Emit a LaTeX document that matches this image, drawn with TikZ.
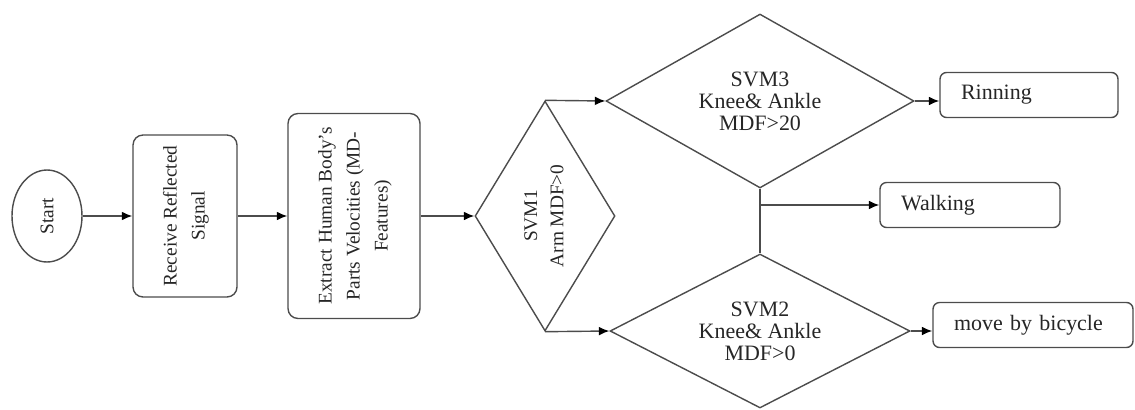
\documentclass[tikz,border=0pt]{standalone}
\usepackage{fontspec}
\setmainfont{Liberation Serif}
\usetikzlibrary{shapes.geometric,arrows.meta}

\begin{document}
\begin{tikzpicture}[x=0.02cm,y=-0.02cm,
        box/.style={draw=black!70,line width=0.8pt,rounded corners=0.2cm,text=black!85,font=\fontsize{11}{16}\selectfont},
        dec/.style={diamond,draw=black!70,line width=0.8pt,inner sep=1pt,text=black!85},
        res/.style={draw=black!70,line width=0.8pt,rounded corners=0.13cm,minimum height=0.9cm,inner xsep=0.42cm,align=left,text=black!85,font=\fontsize{12.5}{13}\selectfont},
        flow/.style={draw=black!70,line width=0.8pt,-{Latex[length=6pt,width=5pt,color=black]}}]
        \useasboundingbox (0,0) rectangle (1135,409);
        % left part, text turned upright
        \node[box,ellipse,rounded corners=0pt,minimum width=1.4cm,minimum height=1.84cm] (start) at (47,216) {\rotatebox{90}{Start}};
        \node[box,minimum width=2.08cm,minimum height=3.24cm] (recv) at (185,216) {\rotatebox{90}{\begin{tabular}{@{}c@{}}Receive Reflected\\Signal\end{tabular}}};
        \node[box,minimum width=2.64cm,minimum height=4.1cm] (feat) at (354,216) {\rotatebox{90}{\begin{tabular}{@{}c@{}}Extract Human Body's\\Parts Velocities (MD-\\Features)\end{tabular}}};
        \node[dec,aspect=0.6,minimum width=2.8cm,minimum height=4.6cm,font=\fontsize{11}{15}\selectfont] (svm1) at (545,216) {\rotatebox{90}{\begin{tabular}{@{}c@{}}SVM1\\Arm MDF>0\end{tabular}}};
        % classifiers
        \node[dec,aspect=1.8,minimum width=6.16cm,minimum height=3.48cm,align=center,font=\fontsize{12.5}{12.5}\selectfont] (svm3) at (760,101) {SVM3\\Knee\& Ankle\\MDF>20};
        \node[dec,aspect=1.9,minimum width=6.0cm,minimum height=3.08cm,align=center,font=\fontsize{12.5}{12.5}\selectfont] (svm2) at (760,331) {SVM2\\Knee\& Ankle\\MDF>0};
        % results
        \node[res,text width=2.72cm] (run) at (1029,95) {Rinning};
        \node[res,text width=2.76cm] (walk) at (970,205) {Walking};
        \node[res,text width=3.16cm] (bike) at (1033,325) {move by bicycle};
        \coordinate (split) at (svm3.south |- walk.west);
        \draw[flow] (start) -- (recv);
        \draw[flow] (recv) -- (feat);
        \draw[flow] (feat) -- (svm1);
        \draw[flow] (svm1.north) -- (svm3.west);
        \draw[flow] (svm1.south) -- (svm2.west);
        \draw[draw=black!70,line width=0.8pt] (svm3.south) -- (svm2.north);
        \draw[flow] (split) -- (walk.west);
        \draw[flow] (svm3.east) -- (svm3.east -| run.west);
        \draw[flow] (svm2.east) -- (svm2.east -| bike.west);
\end{tikzpicture}
\end{document}
